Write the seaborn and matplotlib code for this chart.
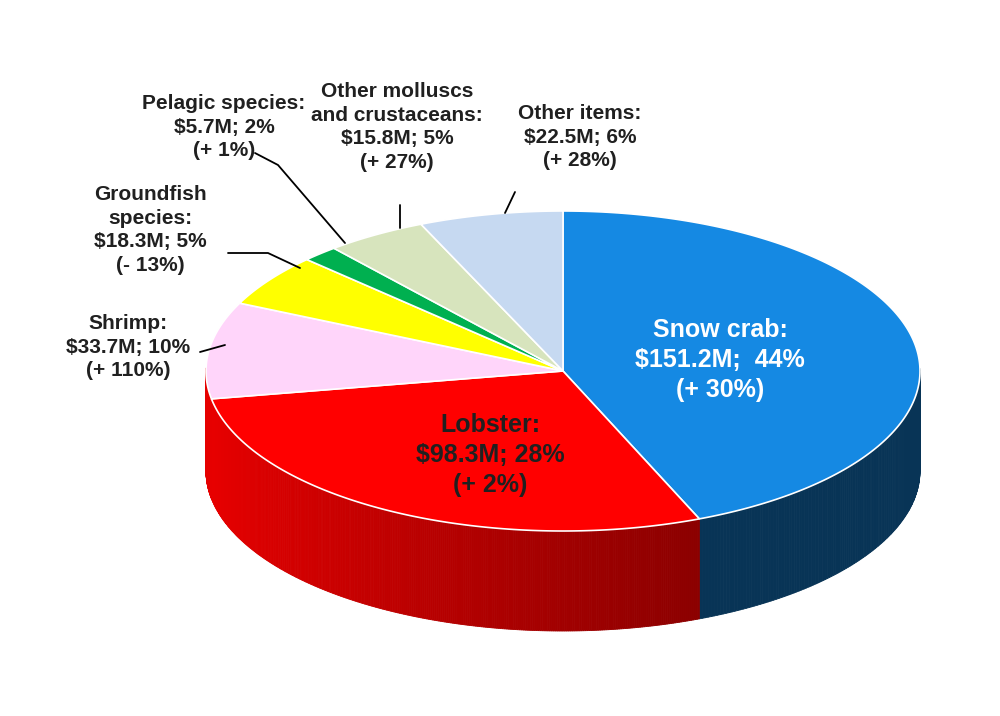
import numpy as np
import matplotlib
matplotlib.use("Agg")
import matplotlib.pyplot as plt
import matplotlib.colors as mc
import seaborn as sns

sns.set_theme(style="white")

categories = ["Snow crab", "Lobster", "Shrimp", "Groundfish species", "Pelagic species",
              "Other molluscs and crustaceans", "Other items"]
values = [151.2, 98.3, 33.7, 18.3, 5.7, 15.8, 22.5]
shares = [44, 28, 10, 5, 2, 5, 6]
changes = ["+ 30%", "+ 2%", "+ 110%", "- 13%", "+ 1%", "+ 27%", "+ 28%"]
colors = ["#1589E3", "#FF0000", "#FFD5FA", "#FFFF00", "#00B050", "#D7E4BD", "#C6D9F1"]

fig = plt.figure(figsize=(10, 7.16), dpi=100)
ax = fig.add_axes([0, 0, 1, 1])
ax.set_xlim(0, 1000); ax.set_ylim(716, 0); ax.axis("off")

cx, cy, rx, ry, depth = 563, 371, 357, 160, 100
total = sum(values)
ang = [np.pi/2]
for v in values:
    ang.append(ang[-1] - 2*np.pi*v/total)

def pt(t):
    return cx + rx*np.cos(t), cy - ry*np.sin(t)

# side walls
for i in range(len(values)):
    a0, a1 = ang[i], ang[i+1]
    ts = np.linspace(a1, a0, 300)
    base = np.array(mc.to_rgb(colors[i]))
    for k in range(len(ts)-1):
        tm = (ts[k]+ts[k+1])/2
        if np.sin(tm) > 0.02:
            continue
        x0, y0 = pt(ts[k]); x1, y1 = pt(ts[k+1])
        if i == 0:
            shade = 0.38
        else:
            f = (np.cos(tm) + 1) / 2
            shade = 0.92 - 0.5 * f ** 0.8
        c = base*shade
        if i == 2:
            c = np.array(mc.to_rgb(colors[1])) * 0.9
        ax.fill([x0, x1, x1, x0], [y0, y1, y1+depth, y0+depth], color=c, lw=0.6, ec=c)

# top faces
for i in range(len(values)):
    ts = np.linspace(ang[i], ang[i+1], 200)
    xs = [cx] + [pt(t)[0] for t in ts]
    ys = [cy] + [pt(t)[1] for t in ts]
    ax.fill(xs, ys, color=colors[i], ec="white", lw=1.2)

kw = dict(fontsize=15, fontweight="bold", ha="center", va="center", family="Liberation Sans",
          linespacing=1.3, color="#202020")
def lab(i, name):
    return f"{name}:\n${values[i]}M; {shares[i]}%\n({changes[i]})"

ax.text(720, 360, f"Snow crab:\n${values[0]}M;  {shares[0]}%\n({changes[0]})", color="white", fontsize=18,
        fontweight="bold", ha="center", va="center", family="Liberation Sans", linespacing=1.3)
ax.text(490, 455, lab(1, "Lobster"), color="#202020", fontsize=18, fontweight="bold", ha="center",
        va="center", family="Liberation Sans", linespacing=1.3)
ax.text(128, 347, lab(2, "Shrimp"), **kw)
ax.text(150, 230, "Groundfish\nspecies:\n$18.3M; 5%\n(- 13%)", **kw)
ax.text(224, 127, lab(4, "Pelagic species"), **kw)
ax.text(397, 127, "Other molluscs\nand crustaceans:\n$15.8M; 5%\n(+ 27%)", **kw)
ax.text(580, 137, lab(6, "Other items"), **kw)

lines = [([200, 225], [352, 345]), ([228, 268, 300], [253, 253, 268]),
         ([255, 278, 345], [153, 165, 243]), ([400, 400], [205, 228]), ([505, 515], [213, 192])]
for xs, ys in lines:
    ax.plot(xs, ys, color="black", lw=1.3)

fig.savefig("out.png", dpi=100, facecolor="white")
